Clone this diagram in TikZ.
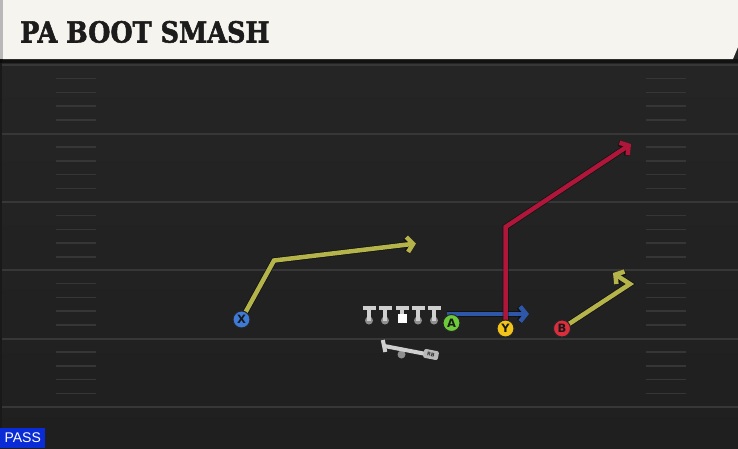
\documentclass[tikz,border=0pt]{standalone}
\usepackage{fontspec}
\usetikzlibrary{arrows.meta}
\newfontfamily\titlefont[FakeBold=2]{DejaVu Serif}
\newfontfamily\lblfont{DejaVu Sans}
\newfontfamily\passfont{Liberation Sans}
\definecolor{fieldtop}{HTML}{262626}
\definecolor{fieldbot}{HTML}{1F1F1F}
\definecolor{yardc}{HTML}{373737}
\definecolor{hashc}{HTML}{363636}
\definecolor{cream}{HTML}{F6F4EE}
\definecolor{titletext}{HTML}{1C1C1C}
\definecolor{passblue}{HTML}{0A2CD6}
\definecolor{lmgray}{HTML}{CFCFCF}
\definecolor{lmdark}{HTML}{8E8E8E}
\definecolor{xblue}{HTML}{3D7BD6}
\definecolor{agreen}{HTML}{6DCB3A}
\definecolor{yyellow}{HTML}{F2C41A}
\definecolor{bred}{HTML}{DA2E3C}
\definecolor{olive}{HTML}{B4B44B}
\definecolor{routeblue}{HTML}{2E57A8}
\definecolor{routered}{HTML}{B0153A}
\tikzset{
  yard/.style={draw=yardc, line width=2},
  hashmark/.style={draw=hashc, line width=1.5},
  lman/.style={draw=lmgray, line width=4},
  player/.style={circle, draw=black!85, line width=1, minimum size=17, inner sep=0,
    font=\lblfont\bfseries\fontsize{11.5}{11.5}\selectfont, text=black!90},
  route/.style={line width=4.5, line join=miter,
    -{Straight Barb[length=6, width=15]},
    preaction={draw=black, line width=6, opacity=0.45}},
}
\begin{document}
\begin{tikzpicture}[x=1pt, y=-1pt]
\useasboundingbox (0,0) rectangle (738,448);
% field
\shade[top color=fieldtop, bottom color=fieldbot] (0,0) rectangle (738,448);
\fill[black!35!fieldtop] (0,60) rectangle (2,448);
% yard lines and hashes
\foreach \yy in {65,133.5,202,270,338.5,407}{
  \draw[yard] (2,\yy) -- (738,\yy);
}
\foreach \yy in {65,133.5,202,270,338.5}{
  \foreach \k in {1,2,3,4}{
    \draw[hashmark] (56,\yy+\k*13.7) -- (96,\yy+\k*13.7);
    \draw[hashmark] (646,\yy+\k*13.7) -- (686,\yy+\k*13.7);
  }
}
% title bar
\fill[black, opacity=0.5] (0,59) rectangle (738,63);
\fill[cream] (3,0) -- (738,0) -- (738,47) -- (733,59) -- (3,59) -- cycle;
\fill[black!28] (0,0) rectangle (3,59);
\node[anchor=base west, inner sep=0, text=titletext,
  font=\titlefont\bfseries\fontsize{29}{30}\selectfont] (title) at (20,42.5) {\scalebox{0.88}[1]{PA BOOT SMASH}};
% PASS label
\node[anchor=south west, fill=passblue, text=white, minimum width=45, minimum height=20,
  inner sep=0, font=\passfont\fontsize{14}{14}\selectfont] (pass) at (0,448) {PASS};
% player positions
\coordinate (pX) at (241.5,319.5);
\coordinate (pA) at (451.5,323);
\coordinate (pY) at (505.5,328.5);
\coordinate (pB) at (562,328.5);
% route points
\coordinate (x1) at (274,260.5);
\coordinate (x2) at (416,243.5);
\coordinate (a0) at (447,314);
\coordinate (a1) at (529,314);
\coordinate (y1) at (505.5,227);
\coordinate (y2) at (631,144);
\coordinate (b1) at (630,284);
\coordinate (b2) at (613,273);
% routes
\draw[route, draw=olive] (pX) -- (x1) -- (x2);
\draw[route, draw=routeblue] (a0) -- (a1);
\draw[route, draw=routered] (pY) -- (y1) -- (y2);
\draw[route, draw=olive] (pB) -- (b1) -- (b2);
% offensive line
\foreach \xx in {369,385,418,434}{
  \fill[lmdark] (\xx,320.5) circle (4);
  \draw[lman] (\xx-6.5,307.5) -- (\xx+6.5,307.5);
  \draw[lman] (\xx,307.5) -- (\xx,320.5);
}
\draw[lman] (395.5,307.5) -- (408.5,307.5);
\draw[lman] (402,307.5) -- (402,314);
\fill[white] (397.5,313.5) rectangle (406.5,322.5);
% running back
\fill[lmdark] (401.5,354.5) circle (4);
\draw[lman] (382.8,340) -- (385.3,352);
\draw[lman] (384.5,346) -- (426,354);
\node[rotate=-11, fill=black!27, rounded corners=2, minimum width=15, minimum height=9,
  inner sep=0, text=black!80, font=\lblfont\bfseries\fontsize{5}{5}\selectfont] (rb) at (431,354.5) {RB};
% players
\node[player, fill=xblue] (X) at (pX) {X};
\node[player, fill=agreen] (A) at (pA) {A};
\node[player, fill=yyellow] (Y) at (pY) {Y};
\node[player, fill=bred] (B) at (pB) {B};
\end{tikzpicture}
\end{document}
